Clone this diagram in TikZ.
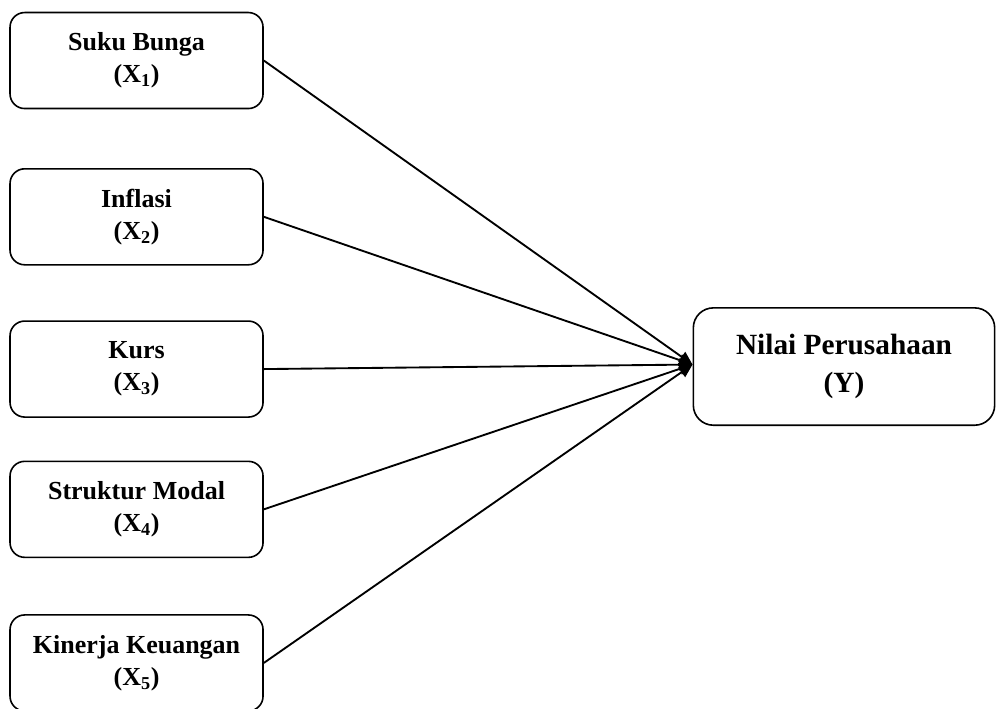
\documentclass[tikz,border=0pt]{standalone}
\usepackage{fontspec}
\setmainfont{Liberation Serif}
\usetikzlibrary{arrows.meta,calc,positioning}

\begin{document}
\begin{tikzpicture}[>={Triangle[length=10pt,width=9pt]},node distance=40pt,
  varbox/.style={draw,line width=1.2pt,rounded corners=11pt,minimum width=189.75pt,minimum height=72pt,
    align=center,font=\bfseries\fontsize{19.5}{24}\selectfont},
  ybox/.style={draw,line width=1.2pt,rounded corners=15pt,minimum width=226pt,minimum height=88pt,
    align=center,font=\bfseries\fontsize{22}{26}\selectfont}]
\useasboundingbox (0,0) rectangle (747.75pt,-531pt);
\node[varbox] (X1) at (102.4pt,-45.4pt) {Suku Bunga\\(X\textsubscript{1})};
\node[varbox,below=44pt of X1] (X2) {Inflasi\\(X\textsubscript{2})};
\node[varbox,below=41pt of X2] (X3) {Kurs\\(X\textsubscript{3})};
\node[varbox,below=32pt of X3] (X4) {Struktur Modal\\(X\textsubscript{4})};
\node[varbox,below=42pt of X4] (X5) {Kinerja Keuangan\\(X\textsubscript{5})};
\node[ybox] (Y) at (633pt,-274.9pt) {Nilai Perusahaan\\[2pt](Y)};
\coordinate (tip) at ($(Y.west)+(0,1.5pt)$);
\foreach \i in {1,...,5}
  \draw[->,line width=1.4pt] (X\i.east) -- (tip);
\end{tikzpicture}
\end{document}
